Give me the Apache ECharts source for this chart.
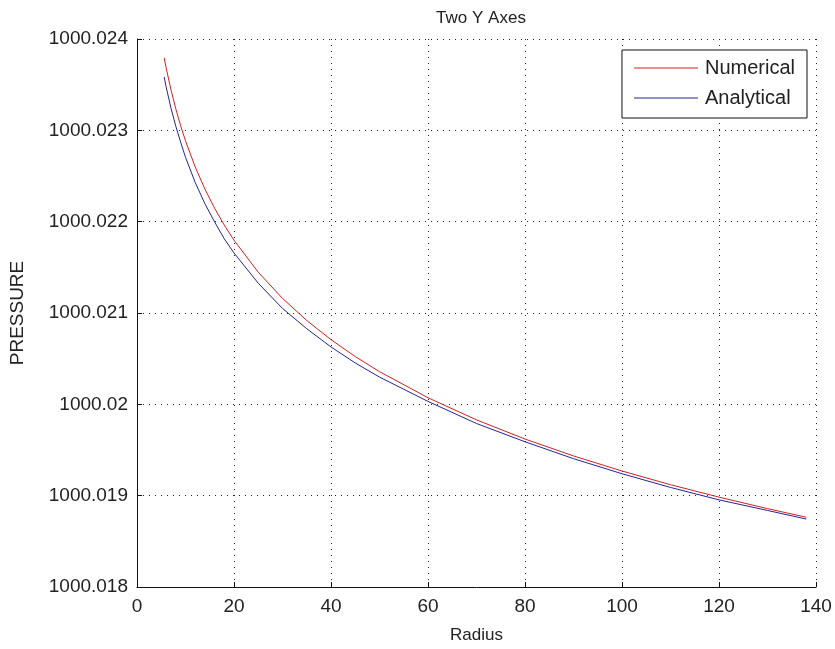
<!DOCTYPE html>
<html>
<head>
<meta charset="utf-8">
<script src="https://cdn.jsdelivr.net/npm/echarts@6/dist/echarts.min.js"></script>
<style>
  html, body { margin: 0; padding: 0; background: #fff; }
  #chart { width: 835px; height: 649px; }
</style>
</head>
<body>
<div id="chart"></div>
<script>
// radius values where the curves were read
var radius = [5.6, 6, 7, 8, 9, 10, 12, 14, 16, 18, 20, 25, 30, 35, 40, 45, 50, 60, 70, 80, 90, 100, 110, 120, 130, 138];

// pressure, numerical solution
var numerical = [1000.023795, 1000.023687, 1000.023445, 1000.023235, 1000.023050, 1000.022885,
	1000.022599, 1000.022357, 1000.022147, 1000.021962, 1000.021797, 1000.021446, 1000.021160,
	1000.020918, 1000.020708, 1000.020523, 1000.020358, 1000.020072, 1000.019830, 1000.019620,
	1000.019435, 1000.019270, 1000.019120, 1000.018984, 1000.018858, 1000.018764];

// pressure, analytical solution
var analytical = [1000.023585, 1000.023477, 1000.023245, 1000.023045, 1000.022870, 1000.022705,
	1000.022429, 1000.022197, 1000.021997, 1000.021812, 1000.021657, 1000.021326, 1000.021050,
	1000.020828, 1000.020628, 1000.020453, 1000.020298, 1000.020032, 1000.019790, 1000.019590,
	1000.019405, 1000.019240, 1000.019090, 1000.018954, 1000.018838, 1000.018744];

var seriesNames = ['Numerical', 'Analytical'];

function pairs(xs, ys){
	var out = [];
	for(var i = 0; i < xs.length; i++){
		out.push([xs[i], ys[i]]);
	}
	return out;
}

var font = 'Liberation Sans, Arial, sans-serif';
var dotted = { color: '#222', width: 1, type: [1, 5] };

var opt = {
	animation: false,
	backgroundColor: '#fff',
	textStyle: { fontFamily: font },
	title: {
		text: 'Two Y Axes',
		left: 476,
		top: 5,
		textAlign: 'center',
		textStyle: { fontSize: 17, fontWeight: 'normal', color: '#222', fontFamily: font }
	},
	legend: {
		data: seriesNames,
		orient: 'vertical',
		right: 28,
		top: 50,
		icon: 'rect',
		padding: [8, 12, 10, 12],
		itemGap: 10,
		itemWidth: 64,
		itemHeight: 1,
		backgroundColor: '#fff',
		borderColor: '#111',
		borderWidth: 1,
		borderRadius: 0,
		textStyle: { fontSize: 20, color: '#222', fontFamily: font, padding: [0, 0, 0, 2] }
	},
	grid: { left: 137, right: 19, top: 39, bottom: 62, containLabel: false },
	xAxis: {
		type: 'value',
		min: 0,
		max: 140,
		interval: 20,
		name: 'Radius',
		nameLocation: 'middle',
		nameGap: 40,
		nameTextStyle: { fontSize: 17, color: '#222' },
		axisLine: { onZero: false, lineStyle: { color: '#111', width: 1 } },
		axisTick: { inside: true, length: 5, lineStyle: { color: '#111' } },
		axisLabel: { fontSize: 19, color: '#222', margin: 10 },
		splitLine: { show: true, lineStyle: dotted }
	},
	yAxis: {
		type: 'value',
		min: 1000.018,
		max: 1000.024,
		interval: 0.001,
		name: 'PRESSURE',
		nameLocation: 'middle',
		nameGap: 110,
		nameTextStyle: { fontSize: 19, color: '#222' },
		axisLine: { show: true, lineStyle: { color: '#111', width: 1 } },
		axisTick: { show: true, inside: true, length: 5, lineStyle: { color: '#111' } },
		axisLabel: {
			fontSize: 19,
			color: '#222',
			margin: 9,
			formatter: function(v){ return String(parseFloat(v.toFixed(3))); }
		},
		splitLine: { show: true, lineStyle: dotted }
	},
	series: [
		{
			name: seriesNames[0],
			type: 'line',
			symbol: 'none',
			lineStyle: { color: '#d42020', width: 1 },
			itemStyle: { color: '#d42020' },
			data: pairs(radius, numerical)
		},
		{
			name: seriesNames[1],
			type: 'line',
			symbol: 'none',
			lineStyle: { color: '#25259a', width: 1 },
			itemStyle: { color: '#25259a' },
			data: pairs(radius, analytical)
		}
	]
};

echarts.init(document.getElementById('chart')).setOption(opt);
</script>
</body>
</html>
